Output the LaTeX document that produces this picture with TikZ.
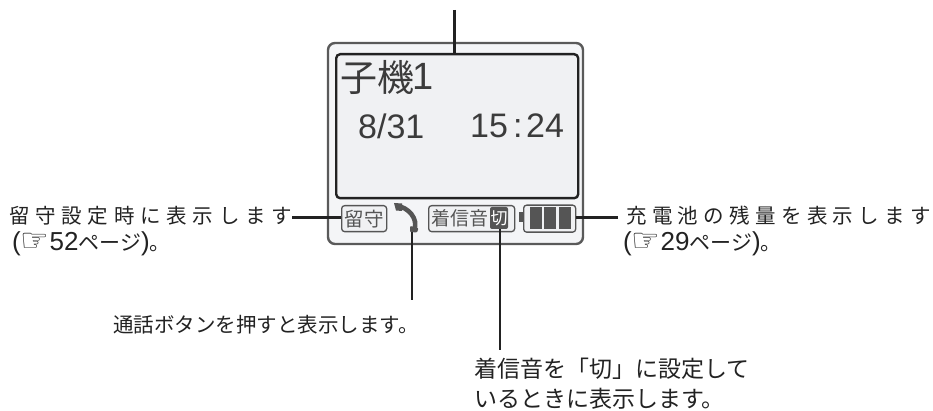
\documentclass[tikz,border=0pt]{standalone}
\usepackage{fontspec}
\setmainfont{Noto Sans CJK JP}
\newfontfamily\dejafont{DejaVu Sans}
\newfontfamily\latinfont{Liberation Sans}
\definecolor{inkc}{HTML}{222222}
\definecolor{frame}{HTML}{5A5A5A}
\definecolor{lcd}{HTML}{F0F1F3}
\definecolor{iconc}{HTML}{555555}
\newcommand{\hand}{\smash{\raisebox{-1pt}{\dejafont\fontsize{32}{32}\selectfont ☞}}}
\newcommand{\dg}[1]{{\latinfont\fontsize{26}{26}\selectfont #1}}
\tikzset{
 lead/.style={draw=inkc,line width=2.2pt},
 lab/.style={anchor=west,inner sep=0pt,text=inkc,font=\fontsize{21}{24}\selectfont},
 spaced/.style={lab,font=\fontsize{20.5}{24}\selectfont\addfontfeature{LetterSpace=28}},
 spacedr/.style={lab,font=\fontsize{20.5}{24}\selectfont\addfontfeature{LetterSpace=26}},
 big/.style={anchor=west,inner sep=0pt,text=iconc!70!black},
 bar/.style={fill=iconc,minimum width=12pt,minimum height=22pt,inner sep=0pt},
 tag/.style={draw=iconc,line width=1.3pt,rounded corners=3pt,fill=lcd,inner sep=0pt,text=iconc,font=\fontsize{19}{19}\selectfont},
}
\begin{document}
\begin{tikzpicture}[x=1pt,y=-1pt]
\useasboundingbox (0,0) rectangle (933,411);
\draw[draw=frame,fill=lcd!70!white,line width=2.4pt,rounded corners=7pt] (328,43) rectangle (583,244);
\node[draw=inkc,fill=lcd,line width=2.4pt,rounded corners=4pt,minimum width=242pt,minimum height=144pt,inner sep=0pt,anchor=north west] (screen) at (335,53) {};
\coordinate (topend) at (454.5,10);
\draw[lead] (topend) -- (screen.north -| topend);
\node[big,font=\fontsize{37}{37}\selectfont] (title) at (340,77) {子機};
\node[big,font=\latinfont\fontsize{38}{38}\selectfont] (titleone) at (412,76) {1};
\node[big,font=\latinfont\fontsize{34}{34}\selectfont] (date) at (358,126) {8/31};
\node[big,font=\latinfont\fontsize{34}{34}\selectfont] (timea) at (470,126) {15};
\node[big,font=\latinfont\fontsize{34}{34}\selectfont] (timeb) at (513,128.5) {:};
\node[big,font=\latinfont\fontsize{34}{34}\selectfont] (timec) at (526,126) {24};
% icons
\node[tag,minimum width=45pt,minimum height=26pt,anchor=north west,font=\fontsize{19.5}{19.5}\selectfont] (rusu) at (341,205) {留守};
\node[tag,minimum width=86pt,minimum height=26pt,anchor=north west] (ring) at (428,205) {};
\node[anchor=west,inner sep=0pt,text=iconc,font=\fontsize{19}{19}\selectfont] (ringtext) at (431,218) {着信音};
\node[fill=iconc,rounded corners=2pt,minimum width=18pt,minimum height=22pt,inner sep=0pt,text=white,font=\fontsize{17}{17}\selectfont] (off) at (499,218) {切};
\node[draw=iconc,line width=1.3pt,fill=lcd,rounded corners=3pt,minimum width=52pt,minimum height=27pt,inner sep=0pt,anchor=north west] (batt) at (523,204.5) {};
\node[fill=iconc,minimum width=4pt,minimum height=10pt,inner sep=0pt] (nub) at (521,217.5) {};
\node[bar] (b1) at (536,218) {};
\node[bar] (b2) at (550,218) {};
\node[bar] (b3) at (565,218) {};
% handset
\coordinate (ph) at (412,232);
\draw[iconc,line width=4.6pt] (397,206) .. controls (408,207) and (419,219) .. (414,230);
\fill[iconc] (394,203) -- (402,203.5) -- (402,211) -- (396,210.5) -- cycle;
\fill[iconc,rounded corners=1pt] (410,226) -- (418.5,228) -- (417,232.5) -- (410,232) -- cycle;
% labels
\node[spaced] (l1) at (9,216) {留守設定時に表示します};
\node[lab] (l2) at (12,244) {\dg{(}\hand\dg{52}ページ\dg{)}。};
\node[spacedr] (r1) at (626,216) {充電池の残量を表示します};
\node[lab] (r2) at (623,244) {\dg{(}\hand\dg{29}ページ\dg{)}。};
\node[lab,font=\fontsize{20.5}{24}\selectfont] (c1) at (113,325) {通話ボタンを押すと表示します。};
\node[lab,font=\fontsize{23}{26}\selectfont] (d1) at (474,369) {着信音を「切」に設定して};
\node[lab,font=\fontsize{23}{26}\selectfont] (d2) at (474,399) {いるときに表示します。};
% connectors
\coordinate (lend) at (292,217.5);
\coordinate (rend) at (618,217.5);
\coordinate (cend) at (412,300);
\coordinate (dend) at (500,350);
\draw[lead] (lend) -- (rusu.west |- lend);
\draw[lead] (rend) -- (batt.east |- rend);
\draw[lead] (ph) -- (cend);
\draw[lead] (off.south -| dend) -- (dend);
\end{tikzpicture}
\end{document}
